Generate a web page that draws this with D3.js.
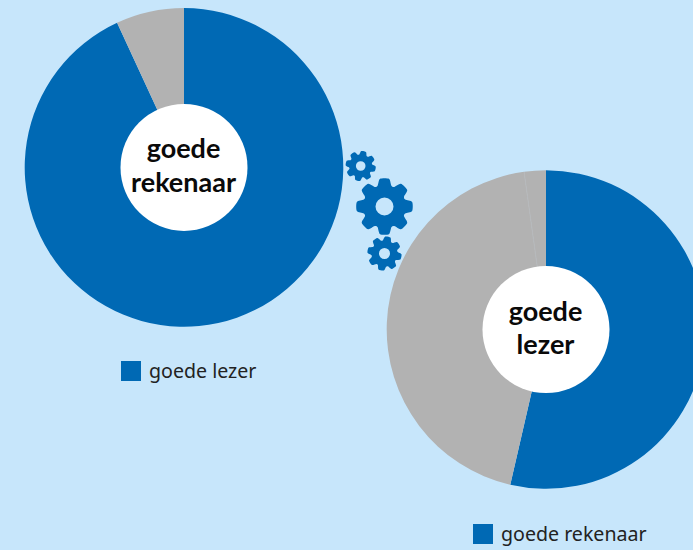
<!DOCTYPE html>
<html><head><meta charset="utf-8">
<script src="https://cdn.jsdelivr.net/npm/d3@7/dist/d3.min.js"></script>
<style>html,body{margin:0;padding:0;background:#c7e6fb;overflow:hidden}svg{display:block}text{font-family:"Noto Sans","Open Sans",sans-serif}</style>
</head><body><svg id="c" width="693" height="550"></svg>
<script>
const leftLabels = ["goede lezer", "overig"];
const leftValues = [93.1, 6.9];
const rightLabels = ["goede rekenaar", "overig a", "overig b"];
const rightValues = [53.6, 44.2, 2.2];
const leftTitle = ["goede", "rekenaar"];
const rightTitle = ["goede", "lezer"];
const legendLeft = "goede lezer";
const legendRight = "goede rekenaar";
const BLUE = "#0069b4", GRAY = "#b2b2b2", SEAM = "#b7b9bb";

const svg = d3.select("#c");
svg.append("rect").attr("width",693).attr("height",550).attr("fill","#c7e6fb");

function donut(cx, cy, values, title, lx, ly, legend, colors){
  const g = svg.append("g").attr("transform",`translate(${cx},${cy})`);
  const pie = d3.pie().sort(null)(values);
  const arc = d3.arc().innerRadius(0).outerRadius(159.3);
  g.selectAll("path").data(pie).join("path").attr("d",arc)
    .attr("fill",(d,i)=>colors[i]);
  if(values.length>2){
    const a = pie[1].endAngle;
    g.append("path").attr("d",`M0,0L${159*Math.sin(a)},${-159*Math.cos(a)}`)
      .attr("stroke",SEAM).attr("stroke-width",1);
  }
  g.append("circle").attr("r",63.5).attr("fill","#fff");
  title.forEach((t,i)=>g.append("text").attr("text-anchor","middle")
    .attr("x",-0.5).attr("y",(i===0?-9:24.5)).attr("font-size",27).attr("font-weight",700)
    .style("font-family","Lato, 'Noto Sans', sans-serif")
    .attr("fill","#0a0a0a").text(t));
  svg.append("rect").attr("x",lx).attr("y",ly).attr("width",20).attr("height",20).attr("fill",BLUE);
  svg.append("text").attr("x",lx+28).attr("y",ly+17).attr("font-size",19.6).attr("fill","#222").text(legend);
}
donut(184,167.4,leftValues,leftTitle,121,361,legendLeft,[BLUE,GRAY]);
donut(546,329.5,rightValues,rightTitle,473,524,legendRight,[BLUE,GRAY,GRAY]);

function gearPath(R, hole, teeth, rot){
  const r = R*0.78, pts=[], step = 2*Math.PI/teeth;
  for(let i=0;i<teeth;i++){
    const a = rot + i*step;
    [[r,-0.34],[R,-0.17],[R,0.17],[r,0.34]].forEach(([rad,f])=>{
      const t = a + f*step*1.2;
      pts.push([rad*Math.sin(t), -rad*Math.cos(t)]);
    });
  }
  const outer = d3.line().curve(d3.curveCardinalClosed.tension(0.25))(pts);
  const h = `M${hole},0A${hole},${hole} 0 1,0 ${-hole},0A${hole},${hole} 0 1,0 ${hole},0Z`;
  return outer + h;
}
const gearX = [360.7,384.5,384.5];
const gearY = [166,206.5,253.5];
const gearR = [15,28,17];
const gearHole = [4.8,9,5.5];
const gearRot = [0.2,0,0.2];
gearX.forEach((x,i)=>svg.append("path")
  .attr("transform",`translate(${x},${gearY[i]})`)
  .attr("d",gearPath(gearR[i],gearHole[i],8,gearRot[i]))
  .attr("fill",BLUE).attr("fill-rule","evenodd"));
</script></body></html>
